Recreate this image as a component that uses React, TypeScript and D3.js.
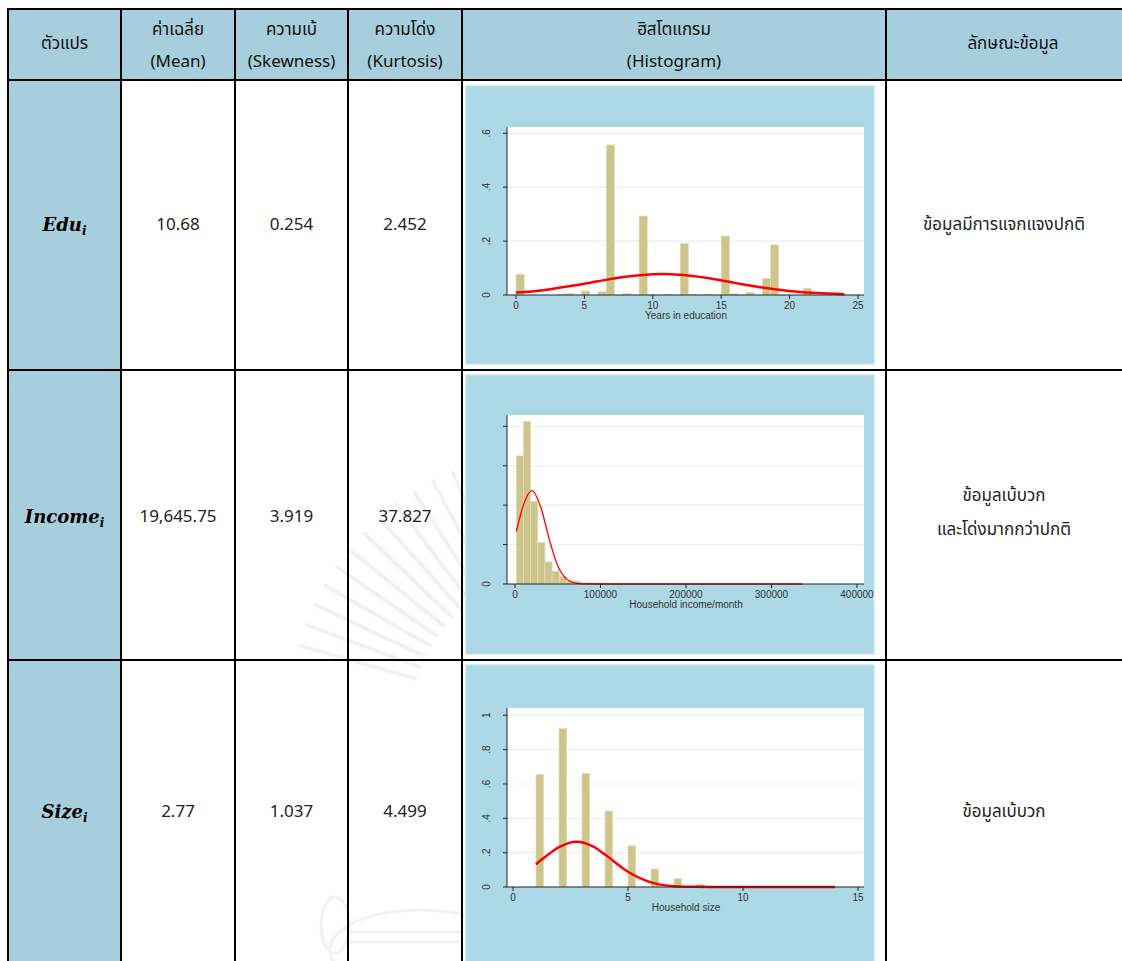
import React from 'react';
import * as d3 from 'd3';

// table grid (px)
const colX = [8, 121, 235, 348, 462, 886, 1140];
const rowY = [9, 80, 370, 660, 990];
const rowTextY = [225, 517, 812];

const headerLines = [
  ['ตัวแปร'],
  ['ค่าเฉลี่ย', '(Mean)'],
  ['ความเบ้', '(Skewness)'],
  ['ความโด่ง', '(Kurtosis)'],
  ['ฮิสโตแกรม', '(Histogram)'],
  ['ลักษณะข้อมูล'],
];
const varNames = ['Edu', 'Income', 'Size'];
const means = ['10.68', '19,645.75', '2.77'];
const skews = ['0.254', '3.919', '1.037'];
const kurts = ['2.452', '37.827', '4.499'];
const descLines = [
  ['ข้อมูลมีการแจกแจงปกติ'],
  ['ข้อมูลเบ้บวก', 'และโด่งมากกว่าปกติ'],
  ['ข้อมูลเบ้บวก'],
];

// Years in education
const eduBinStart = [0, 3, 3.6, 4.8, 6, 6.6, 7.8, 9, 9.6, 10.8, 12, 12.6, 13.8, 15, 15.6, 16.8, 18, 18.6, 21];
const eduDensity = [0.077, 0.003, 0.006, 0.015, 0.012, 0.557, 0.006, 0.293, 0.002, 0.002, 0.191, 0.002, 0.002, 0.219, 0.005, 0.009, 0.061, 0.186, 0.025];
const eduCurveX = [0, 2, 4, 6, 8, 10, 10.68, 12, 14, 16, 18, 20, 22, 24];
const eduCurveY = [0.009, 0.018, 0.033, 0.051, 0.068, 0.077, 0.078, 0.075, 0.063, 0.045, 0.028, 0.015, 0.007, 0.003];
const eduXTicks = [0, 5, 10, 15, 20, 25];
const eduYTicks = [0, 0.2, 0.4, 0.6];
const eduYLabels = ['0', '.2', '.4', '.6'];

// Household income/month (density in 1e-5)
const incBinStart = [1500, 9875, 18250, 26625, 35000, 43375, 51750, 60125, 68500, 76875, 85250, 93625, 102000];
const incDensity = [3.25, 4.12, 2.1, 1.05, 0.56, 0.32, 0.19, 0.09, 0.07, 0.04, 0.03, 0.025, 0.02];
const incCurveX = [1500, 10000, 19645, 30000, 40000, 50000, 60000, 70000, 80000, 100000, 336500];
const incCurveY = [1.33, 2.01, 2.37, 1.96, 1.14, 0.46, 0.13, 0.027, 0.004, 0, 0];
const incXTicks = [0, 100000, 200000, 300000, 400000];
const incYTicks = [0, 1, 2, 3, 4];
const incYLabels = ['0', '', '', '', ''];

// Household size
const sizeBinStart = [1, 2, 3, 4, 5, 6, 7, 8];
const sizeDensity = [0.655, 0.922, 0.661, 0.442, 0.24, 0.105, 0.048, 0.014];
const sizeCurveX = [1, 1.5, 2, 2.77, 3.5, 4, 5, 6, 7, 8, 9, 14];
const sizeCurveY = [0.133, 0.186, 0.232, 0.264, 0.235, 0.189, 0.089, 0.027, 0.005, 0.001, 0, 0];
const sizeXTicks = [0, 5, 10, 15];
const sizeYTicks = [0, 0.2, 0.4, 0.6, 0.8, 1];
const sizeYLabels = ['0', '.2', '.4', '.6', '.8', '1'];

const BLUE = '#a6cedc';
const THAI = '"Noto Sans Thai", "Noto Sans", Tahoma, sans-serif';
const ARIAL = '"Liberation Sans", Arial, sans-serif';

function Hist(p: any) {
  const x = d3.scaleLinear().domain(p.xDomain).range(p.xRange);
  const y = d3.scaleLinear().domain(p.yDomain).range([p.plotBottom, p.yTopPx]);
  const line = d3.line<number>()
    .x((_, i) => x(p.curveX[i]))
    .y(d => y(d))
    .curve(d3.curveMonotoneX);
  const L = 507, R = 864;
  return (
    <g>
      <rect x={466} y={p.panelTop} width={408} height={p.panelBottom - p.panelTop} fill="#add8e6" stroke="#c4e3ec" strokeWidth={1.5} />
      <rect x={L} y={p.plotTop} width={R - L} height={p.plotBottom - p.plotTop} fill="#fff" />
      {p.yTicks.filter((t: number) => t > 0).map((t: number) => (
        <line key={'g' + t} x1={L} x2={R} y1={y(t)} y2={y(t)} stroke="#e6eff1" strokeWidth={1.2} />
      ))}
      {p.binStart.map((b: number, i: number) => (
        <rect key={'b' + i} x={x(b)} y={y(p.density[i])} width={x(b + p.binWidth) - x(b)}
          height={p.plotBottom - y(p.density[i])} fill="#cdc58c" stroke="#e2ddb8" strokeWidth={0.7} />
      ))}
      <path d={line(p.curveY) || ''} fill="none" stroke="#ff0000" strokeWidth={p.curveWidth} />
      <line x1={L} x2={L} y1={p.plotTop} y2={p.plotBottom} stroke="#222" strokeWidth={1} />
      <line x1={L} x2={R} y1={p.plotBottom} y2={p.plotBottom} stroke="#222" strokeWidth={1} />
      {p.yTicks.map((t: number, i: number) => (
        <g key={'y' + t}>
          <line x1={L - 4} x2={L} y1={y(t)} y2={y(t)} stroke="#222" strokeWidth={1} />
          <text transform={`translate(490,${y(t)}) rotate(-90)`} textAnchor="middle" fontSize={10}
            fontFamily={ARIAL} fill="#333">{p.yLabels[i]}</text>
        </g>
      ))}
      {p.xTicks.map((t: number) => (
        <g key={'x' + t}>
          <line x1={x(t)} x2={x(t)} y1={p.plotBottom} y2={p.plotBottom + 4} stroke="#222" strokeWidth={1} />
          <text x={x(t)} y={p.plotBottom + 13.5} textAnchor="middle" fontSize={10} fontFamily={ARIAL} fill="#333">{t}</text>
        </g>
      ))}
      <text x={686} y={p.plotBottom + 23.5} textAnchor="middle" fontSize={10} fontFamily={ARIAL} fill="#333">{p.title}</text>
    </g>
  );
}

const rays = d3.range(14).map(i => 196 + i * 4.6);

export default function App() {
  const colMid = (c: number) => (colX[c] + colX[c + 1]) / 2;
  const vals = [means, skews, kurts];
  return (
    <svg width={1122} height={961} style={{ position: 'absolute', left: 0, top: 0 }}>
      <rect width={1122} height={961} fill="#fff" />
      <rect x={colX[0]} y={rowY[0]} width={colX[6] - colX[0]} height={rowY[1] - rowY[0]} fill={BLUE} />
      <rect x={colX[0]} y={rowY[1]} width={colX[1] - colX[0]} height={rowY[4] - rowY[1]} fill={BLUE} />

      {/* faint emblem watermark */}
      <g stroke="#f1f1f1" strokeLinecap="round" fill="none">
        {rays.map(a => {
          const r = (a * Math.PI) / 180;
          return <line key={a} x1={560 + 150 * Math.cos(r)} y1={720 + 150 * Math.sin(r)}
            x2={560 + 270 * Math.cos(r)} y2={720 + 270 * Math.sin(r)} strokeWidth={4} />;
        })}
        <ellipse cx={420} cy={950} rx={90} ry={40} strokeWidth={3} />
        <ellipse cx={335} cy={925} rx={14} ry={28} strokeWidth={3} />
        <line x1={350} x2={460} y1={932} y2={932} strokeWidth={3} />
        <line x1={350} x2={460} y1={942} y2={942} strokeWidth={3} />
      </g>

      <Hist panelTop={86} panelBottom={364} plotTop={127} plotBottom={295} yTopPx={133.3}
        xDomain={[0, 25]} xRange={[516, 858]} yDomain={[0, 0.6]} xTicks={eduXTicks}
        yTicks={eduYTicks} yLabels={eduYLabels} binStart={eduBinStart} binWidth={0.6}
        density={eduDensity} curveX={eduCurveX} curveY={eduCurveY} curveWidth={2.5}
        title="Years in education" />
      <Hist panelTop={375} panelBottom={654} plotTop={415} plotBottom={584} yTopPx={426.3}
        xDomain={[0, 400000]} xRange={[515, 857]} yDomain={[0, 4]} xTicks={incXTicks}
        yTicks={incYTicks} yLabels={incYLabels} binStart={incBinStart} binWidth={8375}
        density={incDensity} curveX={incCurveX} curveY={incCurveY} curveWidth={1.3}
        title="Household income/month" />
      <Hist panelTop={665} panelBottom={975} plotTop={708} plotBottom={887} yTopPx={715.3}
        xDomain={[0, 15]} xRange={[513, 858]} yDomain={[0, 1]} xTicks={sizeXTicks}
        yTicks={sizeYTicks} yLabels={sizeYLabels} binStart={sizeBinStart} binWidth={1 / 3}
        density={sizeDensity} curveX={sizeCurveX} curveY={sizeCurveY} curveWidth={2.5}
        title="Household size" />

      {/* grid lines */}
      <g stroke="#000" strokeWidth={2}>
        {rowY.slice(0, 4).map(v => <line key={'r' + v} x1={colX[0] - 1} x2={1122} y1={v} y2={v} />)}
        {colX.slice(0, 6).map(v => <line key={'c' + v} x1={v} x2={v} y1={rowY[0]} y2={961} />)}
      </g>

      {/* header */}
      {headerLines.map((lines, c) => lines.map((t, k) => (
        <text key={c + '-' + k} x={colMid(c)} y={lines.length === 1 ? 44 : k === 0 ? 30 : 62}
          textAnchor="middle" dominantBaseline="central" fontSize={17} fontFamily={THAI} fill="#111">{t}</text>
      )))}

      {varNames.map((v, r) => (
        <text key={v} x={colMid(0)} y={rowTextY[r] + 6} textAnchor="middle" fontFamily='"DejaVu Serif", serif'
          fontWeight="bold" fontStyle="italic" fontSize={18} fill="#000">
          {v}<tspan fontSize={12} dy={4}>i</tspan>
        </text>
      ))}

      {vals.map((arr, c) => arr.map((v, r) => (
        <text key={c + 'v' + r} x={colMid(c + 1)} y={rowTextY[r]} textAnchor="middle"
          dominantBaseline="central" fontSize={17} fontFamily={THAI} fill="#222">{v}</text>
      )))}

      {descLines.map((lines, r) => lines.map((t, k) => (
        <text key={'d' + r + k} x={1004} y={lines.length === 1 ? rowTextY[r] : [496, 530][k]}
          textAnchor="middle" dominantBaseline="central" fontSize={17} fontFamily={THAI} fill="#222">{t}</text>
      )))}
    </svg>
  );
}
